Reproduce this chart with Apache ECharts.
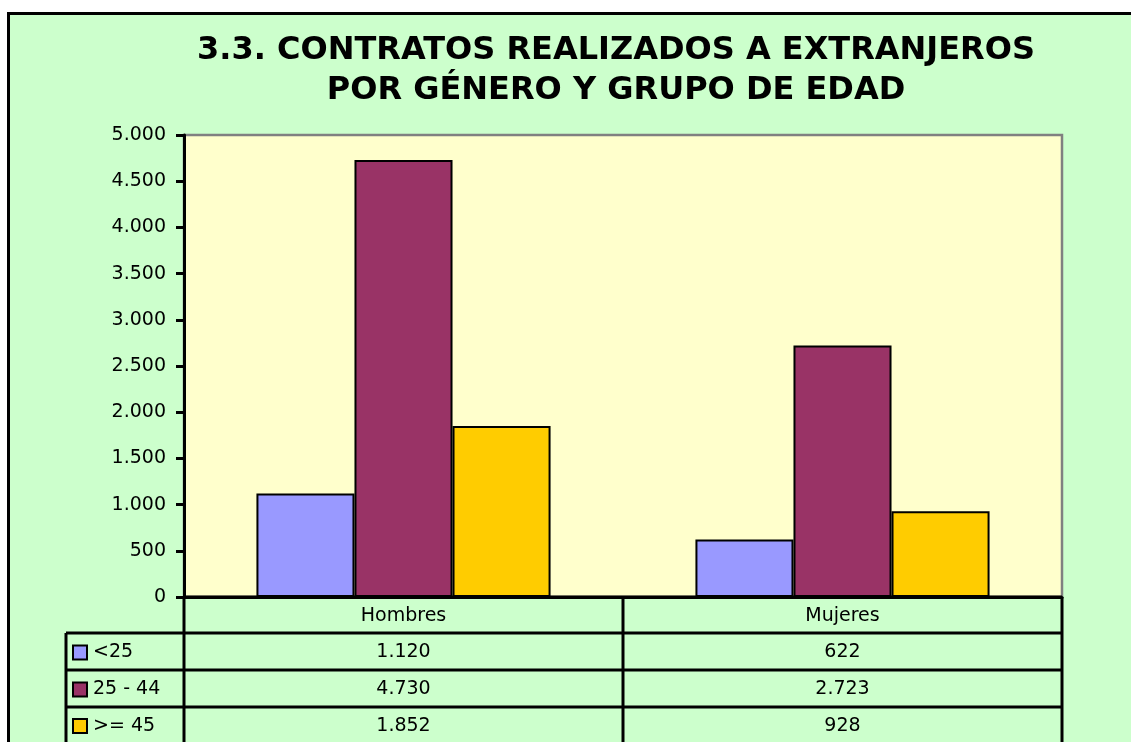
<!DOCTYPE html>
<html>
<head>
<meta charset="utf-8">
<title>3.3. Contratos realizados a extranjeros</title>
<script src="https://cdn.jsdelivr.net/npm/echarts@6/dist/echarts.min.js"></script>
<style>
  html, body { margin: 0; padding: 0; background: #fff; }
  #chart { width: 1131px; height: 742px; }
</style>
</head>
<body>
<div id="chart"></div>
<script>
// data
var generos = ['Hombres', 'Mujeres'];
var grupos = ['<25', '25 - 44', '>= 45'];
var menos25 = [1120, 622];
var de25a44 = [4730, 2723];
var mas45 = [1852, 928];
var colores = ['#9999FF', '#993366', '#FFCC00'];

var valores = [menos25, de25a44, mas45];

// layout of plot area and data table
var G = { left: 184, top: 135, right: 1062, bottom: 597 };
var tablaX = 66;
var filas = [597, 633, 670, 707, 743];
var fuente = 'DejaVu Sans, Verdana, sans-serif';

function fmt(v) {
    return String(v).replace(/\B(?=(\d{3})+(?!\d))/g, '.');
}

var myChart = echarts.init(document.getElementById('chart'));

var colW = (G.right - G.left) / generos.length;
var graphics = [];

// white margin outside the chart area and the frame
graphics.push({ type: 'rect', shape: { x: 0, y: 0, width: 1131, height: 12 }, style: { fill: '#fff' }, silent: true });
graphics.push({ type: 'rect', shape: { x: 0, y: 0, width: 7, height: 742 }, style: { fill: '#fff' }, silent: true });
graphics.push({
    type: 'polyline', silent: true,
    shape: { points: [[8.5, 760], [8.5, 13.5], [1140, 13.5]] },
    style: { stroke: '#000', lineWidth: 3, fill: null }
});

// title
graphics.push({
    type: 'text', silent: true,
    style: {
        x: 616, y: 31, text: '3.3. CONTRATOS REALIZADOS A EXTRANJEROS\nPOR GÉNERO Y GRUPO DE EDAD',
        textAlign: 'center', textVerticalAlign: 'top',
        font: 'bold 32px DejaVu Sans', lineHeight: 40, fill: '#000'
    }
});

// table lines
var lw = 3;
function linea(x1, y1, x2, y2) {
    graphics.push({
        type: 'line', silent: true, z: 10,
        shape: { x1: x1, y1: y1, x2: x2, y2: y2 },
        style: { stroke: '#000', lineWidth: lw }
    });
}
linea(G.left, filas[0], G.right, filas[0]);
for (var r = 1; r < filas.length - 1; r++) linea(tablaX, filas[r], G.right, filas[r]);
for (var c = 0; c <= generos.length; c++) linea(G.left + c * colW, filas[0], G.left + c * colW, 760);
linea(tablaX, filas[1], tablaX, 760);

// header row
generos.forEach(function (g, i) {
    graphics.push({
        type: 'text', silent: true, z: 11,
        style: {
            x: G.left + (i + 0.5) * colW, y: (filas[0] + filas[1]) / 2 + 1, text: g,
            textAlign: 'center', textVerticalAlign: 'middle',
            font: '19px ' + fuente, fill: '#000'
        }
    });
});

// series rows with legend keys
grupos.forEach(function (nombre, s) {
    var yc = (filas[s + 1] + filas[s + 2]) / 2 + 1;
    graphics.push({
        type: 'rect', silent: true, z: 11,
        shape: { x: tablaX + 7, y: yc - 7, width: 14, height: 14 },
        style: { fill: colores[s], stroke: '#000', lineWidth: 2 }
    });
    graphics.push({
        type: 'text', silent: true, z: 11,
        style: {
            x: tablaX + 27, y: yc, text: nombre,
            textAlign: 'left', textVerticalAlign: 'middle',
            font: '19px ' + fuente, fill: '#000'
        }
    });
    valores[s].forEach(function (v, i) {
        graphics.push({
            type: 'text', silent: true, z: 11,
            style: {
                x: G.left + (i + 0.5) * colW, y: yc, text: fmt(v),
                textAlign: 'center', textVerticalAlign: 'middle',
                font: '19px ' + fuente, fill: '#000'
            }
        });
    });
});

var option = {
    backgroundColor: '#CCFFCC',
    animation: false,
    grid: {
        left: G.left, top: G.top,
        width: G.right - G.left, height: G.bottom - G.top,
        show: true, backgroundColor: '#FFFFCC',
        borderColor: '#808080', borderWidth: 2.5,
        containLabel: false
    },
    xAxis: {
        type: 'category',
        data: generos,
        axisLine: { show: true, lineStyle: { color: '#000', width: 3 } },
        axisTick: { show: false },
        axisLabel: { show: false },
        splitLine: { show: false }
    },
    yAxis: {
        type: 'value',
        min: 0, max: 5000, interval: 500,
        axisLine: { show: true, lineStyle: { color: '#000', width: 3 } },
        axisTick: { show: true, inside: false, length: 8, lineStyle: { color: '#000', width: 3 } },
        axisLabel: {
            margin: 18, color: '#000', fontSize: 19, fontFamily: fuente,
            formatter: function (v) { return fmt(v); }
        },
        splitLine: { show: false }
    },
    series: grupos.map(function (nombre, s) {
        return {
            name: nombre,
            type: 'bar',
            data: valores[s],
            barGap: '0%',
            barCategoryGap: '33%',
            itemStyle: { color: colores[s], borderColor: '#000', borderWidth: 2 }
        };
    }),
    graphic: graphics
};

myChart.setOption(option);
</script>
</body>
</html>
